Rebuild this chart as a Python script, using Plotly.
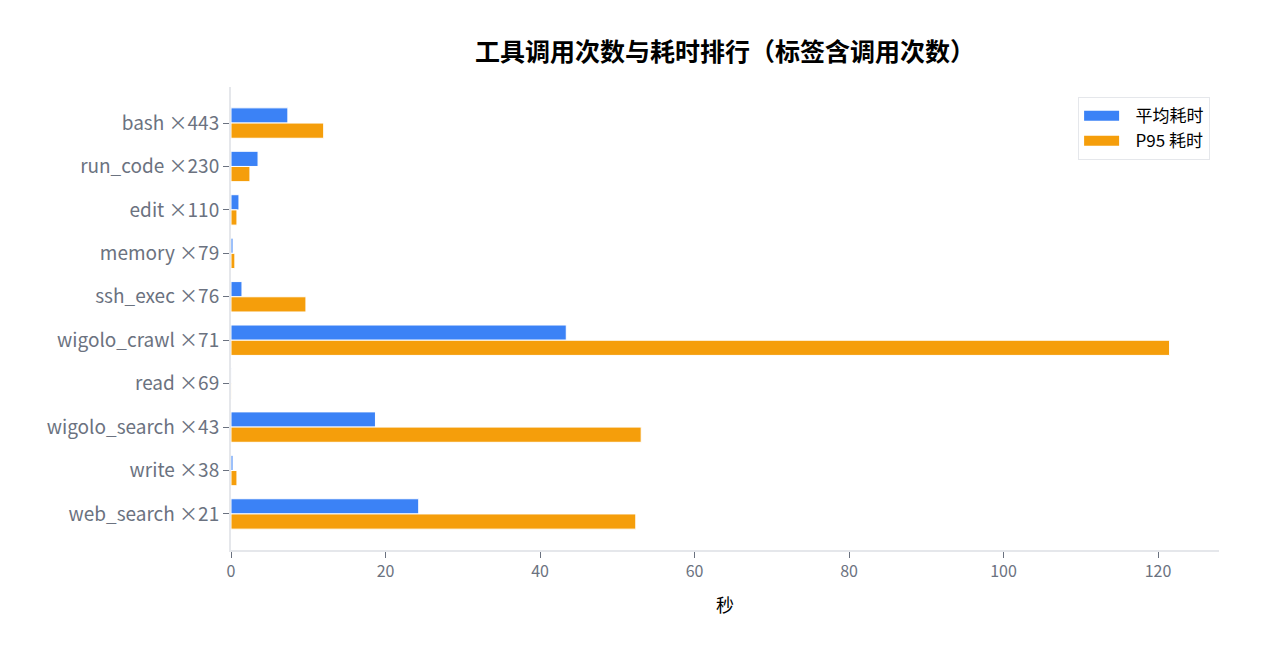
import plotly.graph_objects as go

# 工具调用排行数据
tools = ['bash', 'run_code', 'edit', 'memory', 'ssh_exec',
         'wigolo_crawl', 'read', 'wigolo_search', 'write', 'web_search']
calls = [443, 230, 110, 79, 76, 71, 69, 43, 38, 21]
avg_sec = [7.36, 3.5, 1.03, 0.26, 1.42, 43.4, 0.05, 18.7, 0.26, 24.3]
p95_sec = [12.0, 2.45, 0.77, 0.5, 9.7, 121.5, 0.08, 53.1, 0.77, 52.4]

labels = [t + ' \u00d7' + str(c) for t, c in zip(tools, calls)]

BLUE = '#3b82f6'
ORANGE = '#f59e0b'
FONT = 'Noto Sans CJK SC'
PAD = '\u00a0\u00a0\u00a0'

fig = go.Figure()
fig.add_trace(go.Bar(y=labels, x=avg_sec, orientation='h', name='平均耗时',
                     marker=dict(color=BLUE, line=dict(color='white', width=1)),
                     showlegend=False))
fig.add_trace(go.Bar(y=labels, x=p95_sec, orientation='h', name='P95 耗时',
                     marker=dict(color=ORANGE, line=dict(color='white', width=1)),
                     showlegend=False))

# legend entries drawn as wide swatches
fig.add_trace(go.Scatter(x=[None], y=[None], mode='lines', name=PAD + '平均耗时',
                         line=dict(color=BLUE, width=10)))
fig.add_trace(go.Scatter(x=[None], y=[None], mode='lines', name=PAD + 'P95 耗时',
                         line=dict(color=ORANGE, width=10)))

fig.update_layout(
    width=1264, height=660,
    barmode='group', bargap=0.3,
    plot_bgcolor='white', paper_bgcolor='white',
    font=dict(family=FONT, color='#111111'),
    margin=dict(l=223, r=53, t=79, b=118),
    title=dict(text='<b>工具调用次数与耗时排行（标签含调用次数）</b>',
               x=0.5, xref='paper', xanchor='center', y=0.933, yanchor='middle',
               font=dict(size=25, color='black', family=FONT)),
    legend=dict(x=0.991, y=0.978, xanchor='right', yanchor='top',
                bgcolor='white', bordercolor='#e5e7eb', borderwidth=1,
                itemwidth=35, tracegroupgap=0,
                font=dict(size=17, color='black', family=FONT)),
)

fig.update_xaxes(
    title=dict(text='秒', font=dict(size=18, color='black', family=FONT), standoff=18),
    showgrid=False, zeroline=False,
    showline=True, linecolor='#e5e7eb', linewidth=2,
    ticks='outside', tickcolor='#6b7280', ticklen=6, tickwidth=1,
    tickfont=dict(size=16, color='#6b7280', family=FONT),
    dtick=20,
)
fig.update_yaxes(
    type='category', categoryorder='array', categoryarray=labels,
    range=[9.83, -0.83],
    showgrid=False, zeroline=False,
    showline=True, linecolor='#e5e7eb', linewidth=2,
    ticks='outside', tickcolor='#6b7280', ticklen=6, tickwidth=1,
    tickfont=dict(size=19, color='#6b7280', family=FONT),
)

fig.write_html('out.html')
